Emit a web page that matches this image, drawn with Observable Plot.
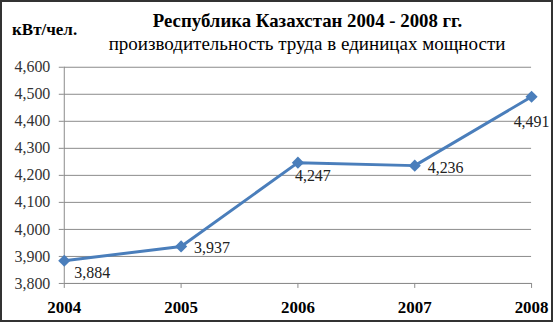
<!DOCTYPE html>
<html>
<head>
<meta charset="utf-8">
<script src="https://cdn.jsdelivr.net/npm/d3@7"></script>
<script src="https://cdn.jsdelivr.net/npm/@observablehq/plot@0.6"></script>
<style>
  html, body { margin: 0; padding: 0; background: #fff; }
  #wrap { position: relative; width: 553px; height: 322px; box-sizing: border-box; border: 2px solid #333; overflow: hidden; background: #fff; }
  #chart, #titles { position: absolute; left: -2px; top: -2px; }
  #titles { font-family: 'Liberation Serif', serif; }
</style>
</head>
<body>
<div id="wrap">
  <div id="chart"></div>
  <svg id="titles" width="553" height="60">
    <text x="12" y="35" font-size="17" font-weight="bold" font-family="Liberation Serif">кВт/чел.</text>
    <text x="307.5" y="27" font-size="18.8" font-weight="bold" text-anchor="middle" font-family="Liberation Serif">Республика Казахстан 2004 - 2008 гг.</text>
    <text x="307" y="50" font-size="19" text-anchor="middle" font-family="Liberation Serif">производительность труда в единицах мощности</text>
  </svg>
</div>
<script>
const years = [2004, 2005, 2006, 2007, 2008];
const values = [3884, 3937, 4247, 4236, 4491];
const yTicks = [3800, 3900, 4000, 4100, 4200, 4300, 4400, 4500, 4600];

const data = years.map((year, i) => ({year, value: values[i]}));
const fmt = d3.format(",");
const blue = "#4a7ebb";
const gray = "#8c8c8c";
const serif = "Liberation Serif";
const lbl = {x: "year", y: "value", text: d => fmt(d.value), fontSize: 16, fontFamily: serif, fill: "#222", textAnchor: "start"};

const chart = Plot.plot({
  width: 553,
  height: 322,
  marginLeft: 64,
  marginRight: 20,
  marginTop: 67,
  marginBottom: 38,
  style: {fontFamily: "'Liberation Serif', serif", background: "transparent", overflow: "visible"},
  x: {domain: [2004, 2008], label: null},
  y: {domain: [3800, 4600], label: null},
  marks: [
    Plot.gridY(yTicks, {stroke: gray, strokeOpacity: 1}),
    Plot.ruleX([2004], {stroke: gray}),
    Plot.axisY(yTicks, {label: null, tickFormat: fmt, tickSize: 5, tickPadding: 9, fontSize: 16, fontFamily: serif, fill: "#333", stroke: gray, strokeOpacity: 1}),
    Plot.axisX(years, {label: null, tickFormat: "d", tickSize: 5, tickPadding: 13, fontSize: 17, fontFamily: serif, fontWeight: "bold", fill: "#000", stroke: gray, strokeOpacity: 1}),
    Plot.ruleY([3800], {stroke: gray}),
    Plot.line(data, {x: "year", y: "value", stroke: blue, strokeWidth: 3}),
    Plot.dot(data, {x: "year", y: "value", symbol: "diamond2", r: 5.5, fill: blue, stroke: "none"}),
    Plot.text(data, {...lbl, filter: d => d.year === 2004, dx: 10, dy: 12}),
    Plot.text(data, {...lbl, filter: d => d.year === 2005, dx: 13, dy: 1}),
    Plot.text(data, {...lbl, filter: d => d.year === 2006, dx: -3, dy: 13}),
    Plot.text(data, {...lbl, filter: d => d.year === 2007, dx: 13, dy: 2}),
    Plot.text(data, {...lbl, filter: d => d.year === 2008, dx: -18, dy: 25})
  ]
});
document.getElementById("chart").appendChild(chart);
</script>
</body>
</html>
